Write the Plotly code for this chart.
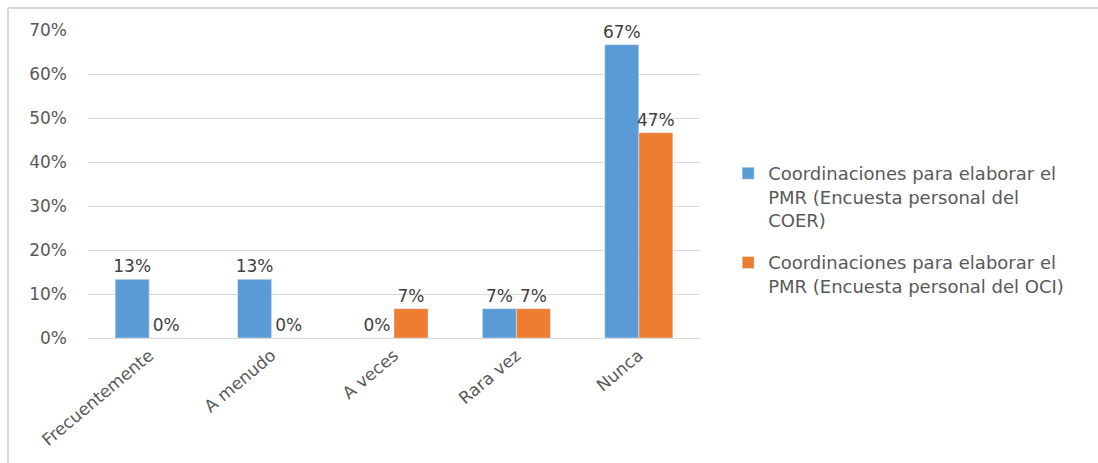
import plotly.graph_objects as go

categories = ["Frecuentemente", "A menudo", "A veces", "Rara vez", "Nunca"]
coer_values = [0.1333, 0.1333, 0.0, 0.0667, 0.6667]
oci_values = [0.0, 0.0, 0.0667, 0.0667, 0.4667]
coer_name = "Coordinaciones para elaborar el<br>PMR (Encuesta personal del<br>COER)"
oci_name = "Coordinaciones para elaborar el<br>PMR (Encuesta personal del OCI)"
y_ticks = [0, 0.1, 0.2, 0.3, 0.4, 0.5, 0.6, 0.7]

FONT = "DejaVu Sans"
FS = 17

fig = go.Figure()
fig.add_trace(go.Bar(
    x=categories, y=coer_values, name=coer_name, legendgroup="coer",
    marker=dict(color="#5B9BD5"),
    text=[f"{round(v*100):.0f}%" for v in coer_values],
    textposition="outside", cliponaxis=False, constraintext="none",
    textfont=dict(family=FONT, size=FS, color="#404040"),
))
fig.add_trace(go.Bar(
    x=categories, y=oci_values, name=oci_name, legendgroup="oci",
    marker=dict(color="#ED7D31"),
    text=[f"{round(v*100):.0f}%" for v in oci_values],
    textposition="outside", cliponaxis=False, constraintext="none",
    textfont=dict(family=FONT, size=FS, color="#404040"),
))

fig.update_layout(
    width=1098, height=463,
    margin=dict(l=88, r=398, t=30, b=125),
    paper_bgcolor="white", plot_bgcolor="white",
    barmode="group", bargap=0.444, bargroupgap=0,
    font=dict(family=FONT, size=FS, color="#595959"),
    showlegend=True,
    legend=dict(
        x=1.046, y=0.594, xanchor="left", yanchor="top",
        valign="top",
        font=dict(family=FONT, size=18, color="#595959"),
        tracegroupgap=16, itemwidth=30,
    ),
)
fig.update_xaxes(
    tickangle=-40, showgrid=False, showline=True, linecolor="#D9D9D9", linewidth=1,
    tickfont=dict(family=FONT, size=FS, color="#595959"),
)
fig.update_yaxes(
    range=[0, 0.7], tickvals=y_ticks, tickformat=".0%",
    showgrid=True, gridcolor="#D9D9D9", gridwidth=1, zeroline=False,
    showline=False, ticklabelstandoff=20,
    tickfont=dict(family=FONT, size=FS, color="#595959"),
)
# outer chart border (top and left edges visible)
fig.add_shape(type="line", xref="paper", yref="paper",
              x0=-80/612, x1=1.7, y0=(338-8)/308, y1=(338-8)/308,
              line=dict(color="#D9D9D9", width=2))
fig.add_shape(type="line", xref="paper", yref="paper",
              x0=-80/612, x1=-80/612, y0=-0.5, y1=(338-8)/308,
              line=dict(color="#D9D9D9", width=2))

fig.write_html("out.html")
